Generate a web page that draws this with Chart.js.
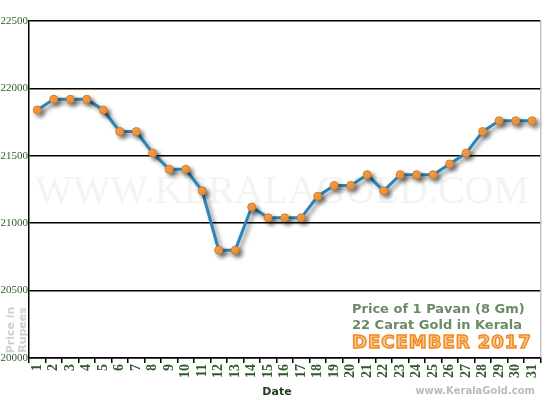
<!DOCTYPE html>
<html>
<head>
<meta charset="utf-8">
<script src="https://cdn.jsdelivr.net/npm/chart.js@4"></script>
<style>
  html, body { margin: 0; padding: 0; background: #fff; }
  #wrap { width: 550px; height: 400px; }
</style>
</head>
<body>
<div id="wrap"><canvas id="chart" width="550" height="400"></canvas></div>
<script>
// Données
const days = ["1","2","3","4","5","6","7","8","9","10","11","12","13","14","15","16",
  "17","18","19","20","21","22","23","24","25","26","27","28","29","30","31"];
const prices = [21840, 21920, 21920, 21920, 21840, 21680, 21680, 21520, 21400, 21400,
  21240, 20800, 20800, 21120, 21040, 21040, 21040, 21200, 21280, 21280,
  21360, 21240, 21360, 21360, 21360, 21440, 21520, 21680, 21760, 21760, 21760];
const yMin = 20000, yMax = 22500, yStep = 500;

const green = "#2f5a2a";

// Textes et filigrane
const decor = {
  id: "decor",
  beforeDatasetsDraw(chart) {
    const ctx = chart.ctx;
    ctx.save();
    ctx.fillStyle = "#f3f3f3";
    ctx.font = "40px 'Liberation Serif'";
    ctx.textAlign = "center";
    ctx.textBaseline = "alphabetic";
    ctx.fillText("WWW.KERALAGOLD.COM", 282, 203);

    ctx.textAlign = "left";
    ctx.font = "bold 13px 'DejaVu Sans'";
    ctx.fillStyle = "#6b8a66";
    ctx.fillText("Price of 1 Pavan (8 Gm)", 352, 313);
    ctx.fillText("22 Carat Gold in Kerala", 352, 329);
    ctx.font = "bold 18px 'DejaVu Sans'";
    ctx.letterSpacing = "1px";
    ctx.lineWidth = 1.5;
    ctx.strokeStyle = "#f08a24";
    ctx.fillStyle = "#fbc98c";
    ctx.fillText("DECEMBER 2017", 352, 348);
    ctx.strokeText("DECEMBER 2017", 352, 348);
    ctx.letterSpacing = "0px";

    // titre axe Y
    ctx.font = "bold 11px 'DejaVu Sans'";
    ctx.fillStyle = "#cfcfcf";
    ctx.textAlign = "center";
    ctx.translate(14, 330);
    ctx.rotate(-Math.PI / 2);
    ctx.fillText("Price in", 0, 0);
    ctx.fillText("Rupees", 0, 12);
    ctx.restore();
  },
  beforeDatasetDraw(chart) {
    const ctx = chart.ctx;
    ctx.save();
    ctx.shadowColor = "rgba(0,0,0,0.45)";
    ctx.shadowBlur = 4;
    ctx.shadowOffsetX = 3;
    ctx.shadowOffsetY = 3;
  },
  afterDatasetDraw(chart) {
    chart.ctx.restore();
  },
  afterDraw(chart) {
    const ctx = chart.ctx;
    const a = chart.chartArea;
    ctx.save();
    ctx.strokeStyle = "#aaaaaa";
    ctx.lineWidth = 1;
    ctx.beginPath();
    ctx.moveTo(a.right + 0.5, a.top);
    ctx.lineTo(a.right + 0.5, a.bottom);
    ctx.stroke();

    ctx.textAlign = "center";
    ctx.font = "bold 11px 'DejaVu Sans'";
    ctx.fillStyle = "#1f3d1c";
    ctx.fillText("Date", 277, 395);
    ctx.textAlign = "right";
    ctx.font = "bold 10px 'DejaVu Sans'";
    ctx.fillStyle = "#bbbbbb";
    ctx.fillText("www.KeralaGold.com", 535, 394);
    ctx.restore();
  }
};

new Chart(document.getElementById("chart").getContext("2d"), {
  type: "line",
  data: {
    labels: days,
    datasets: [{
      data: prices,
      borderColor: "#2a86b8",
      borderWidth: 3,
      tension: 0,
      pointRadius: 4,
      pointBackgroundColor: "#f7a24a",
      pointBorderColor: "#e07820",
      pointBorderWidth: 1,
      fill: false
    }]
  },
  options: {
    responsive: false,
    animation: false,
    devicePixelRatio: 1,
    layout: { padding: { top: 21, right: 2, left: 0, bottom: 0 } },
    plugins: { legend: { display: false }, tooltip: { enabled: false } },
    scales: {
      x: {
        offset: true,
        afterFit: s => { s.height = 42; },
        grid: { drawOnChartArea: false, color: "#000", lineWidth: 1.5, tickLength: 5, offset: true },
        border: { color: "#000", width: 1.5 },
        ticks: {
          color: green,
          font: { family: "'Liberation Serif'", size: 14, weight: "bold" },
          maxRotation: 90, minRotation: 90, autoSkip: false, padding: 1
        }
      },
      y: {
        min: yMin, max: yMax,
        afterFit: s => { s.width = 29; },
        grid: { color: "#000", lineWidth: 1.5, drawTicks: false },
        border: { color: "#000", width: 1.5 },
        ticks: {
          stepSize: yStep,
          color: green,
          padding: 1,
          font: { family: "'Liberation Serif'", size: 11 },
          callback: v => String(v)
        }
      }
    }
  },
  plugins: [decor]
});
</script>
</body>
</html>
